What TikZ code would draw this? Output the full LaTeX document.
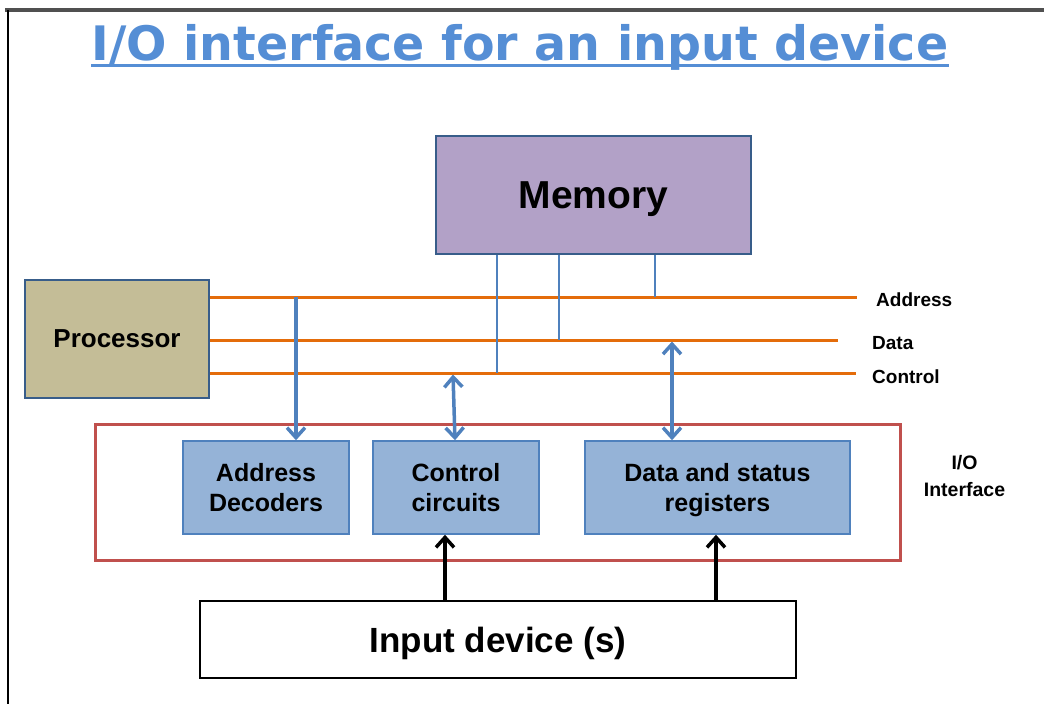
\documentclass[tikz,border=0pt]{standalone}
\usepackage{fontspec}
\setmainfont{Liberation Sans}
\newfontfamily\titlefont{DejaVu Sans}
\usetikzlibrary{arrows.meta,calc}
\definecolor{titleblue}{RGB}{85,142,213}
\definecolor{busorange}{RGB}{228,108,10}
\definecolor{memfill}{RGB}{178,161,199}
\definecolor{procfill}{RGB}{196,189,151}
\definecolor{darkborder}{RGB}{56,93,138}
\definecolor{innerfill}{RGB}{149,179,215}
\definecolor{innerborder}{RGB}{79,129,189}
\definecolor{ioborder}{RGB}{192,80,77}
\definecolor{topgray}{RGB}{80,80,80}
\tikzset{
  bigbox/.style={draw=darkborder, line width=2.5pt, inner sep=0pt, font=\bfseries},
  innerbox/.style={draw=innerborder, fill=innerfill, line width=1.5pt, inner sep=0pt,
    minimum height=93pt, align=center, font=\fontsize{25}{30}\selectfont\bfseries},
  bus/.style={draw=busorange, line width=3pt},
  drop/.style={draw=innerborder, line width=1.6pt},
  bluearrow/.style={draw=innerborder, line width=3.5pt},
  blackarrow/.style={draw=black, line width=3.5pt},
  tipb/.tip={Straight Barb[length=10pt,width=18pt,line width=3.5pt]},
  buslabel/.style={anchor=base west, inner sep=0pt, font=\fontsize{19}{22}\selectfont\bfseries},
}
\begin{document}
\begin{tikzpicture}[x=1pt,y=-1pt]
\useasboundingbox (0,0) rectangle (1044,704);
% frame
\draw[topgray, line width=4pt] (5,10) -- (1044,10);
\draw[black, line width=1.5pt] (8,10) -- (8,704);
% title
\node[anchor=base, inner sep=0pt, text=titleblue, font=\titlefont\fontsize{47.5}{50}\selectfont\bfseries] (title) at (520,60) {I/O interface for an input device};
\draw[titleblue, line width=3pt] ($(title.base west)+(0,5.5)$) -- ($(title.base east)+(0,5.5)$);
% memory and processor
\node[bigbox, fill=memfill, minimum width=315pt, minimum height=118pt, text depth=0pt, font=\fontsize{39}{44}\selectfont\bfseries] (mem) at (593.5,195) {Memory};
\node[bigbox, fill=procfill, minimum width=184pt, minimum height=118pt, font=\fontsize{26}{30}\selectfont\bfseries] (proc) at (117,339) {Processor};
% bus ends
\coordinate (addrEnd) at (857,297);
\coordinate (dataEnd) at (838,340);
\coordinate (ctlEnd) at (856,373);
\draw[bus] (proc.east |- addrEnd) -- (addrEnd);
\draw[bus] (proc.east |- dataEnd) -- (dataEnd);
\draw[bus] (proc.east |- ctlEnd) -- (ctlEnd);
\node[buslabel] (addrLbl) at (876,306) {Address};
\node[buslabel] (dataLbl) at (872,349) {Data};
\node[buslabel] (ctlLbl) at (872,383) {Control};
% memory drops
\coordinate (m1) at (497,373);
\coordinate (m2) at (559,340);
\coordinate (m3) at (655,297);
\draw[drop] (mem.south -| m1) -- (m1);
\draw[drop] (mem.south -| m2) -- (m2);
\draw[drop] (mem.south -| m3) -- (m3);
% I/O interface
\node[draw=ioborder, line width=3pt, minimum width=805pt, minimum height=136pt, inner sep=0pt] (io) at (497.5,492) {};
\node[innerbox, minimum width=166pt] (ad) at (266,487.5) {Address\\Decoders};
\node[innerbox, minimum width=166pt] (cc) at (456,487.5) {Control\\circuits};
\node[innerbox, minimum width=265pt, text depth=0pt] (ds) at (717.5,487.5) {Data and status\\registers};
\node[align=center, inner sep=0pt, font=\fontsize{19.5}{27}\selectfont\bfseries] (ioLbl) at (964.5,476) {I/O\\Interface};
% input device
\node[draw=black, line width=2.5pt, fill=white, minimum width=596pt, minimum height=77pt, inner sep=0pt, text depth=0pt, font=\fontsize{35}{40}\selectfont\bfseries] (inp) at (498,639.5) {Input device (s)};
% arrows
\coordinate (a1) at (296,297);
\draw[bluearrow, -{tipb}] (a1) -- (ad.north -| a1);
\coordinate (c1) at (453,374.5);
\draw[bluearrow, {tipb}-{tipb}] (c1) -- ($(cc.north)+(-1,0)$);
\coordinate (d1) at (672,341.5);
\draw[bluearrow, {tipb}-{tipb}] (d1) -- (ds.north -| d1);
\coordinate (b1) at (445,601);
\coordinate (b2) at (716,601);
\draw[blackarrow, -{tipb}] (b1) -- (cc.south -| b1);
\draw[blackarrow, -{tipb}] (b2) -- (ds.south -| b2);
\end{tikzpicture}
\end{document}
